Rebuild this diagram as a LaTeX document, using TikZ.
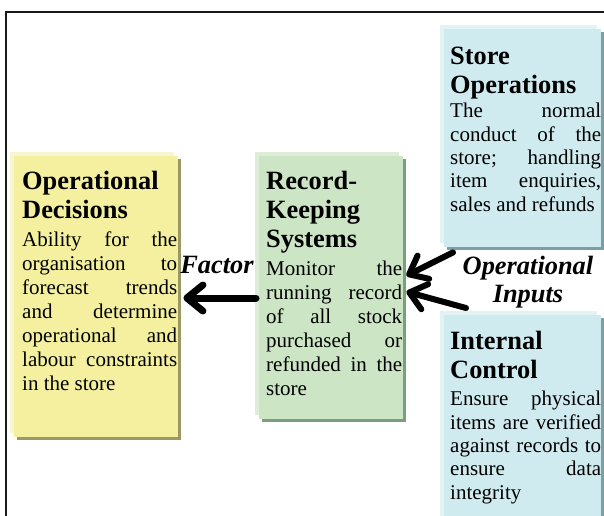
\documentclass[tikz,border=0pt]{standalone}
\usepackage{fontspec}
\setmainfont{Liberation Serif}
\usetikzlibrary{arrows.meta,shadows}

% panel colours: fill, pale back layer, dark drop shadow
\definecolor{yfill}{HTML}{F4F0A0}
\definecolor{ypale}{HTML}{F8F6D2}
\definecolor{ydark}{HTML}{999966}
\definecolor{gfill}{HTML}{CCE5C5}
\definecolor{gpale}{HTML}{DDEDD8}
\definecolor{gdark}{HTML}{7B9E7B}
\definecolor{bfill}{HTML}{D0EBF0}
\definecolor{bpale}{HTML}{E2F2F5}
\definecolor{bdark}{HTML}{7C9FA5}
\definecolor{framecol}{HTML}{1A1A1A}

% fonts for headings, body text and arrow labels
% (the font's own stretchable interword space is restored)
\newcommand\natspace{\spaceskip=0pt \xspaceskip=0pt\relax}
\newcommand\hdfont{\fontsize{26.4}{29}\selectfont\bfseries\natspace}
\newcommand\bdfont{\fontsize{21}{24}\selectfont\mdseries\natspace}
\newcommand\bdfontb{\fontsize{21}{23.3}\selectfont\mdseries\natspace}
\newcommand\lbfont{\fontsize{26.4}{28}\selectfont\bfseries\itshape}
% one fully justified line of body text
\newcommand\jl[1]{\makebox[\hsize][s]{\natspace #1}\\}

\tikzset{
  panel/.style n args={3}{rectangle, inner sep=0pt, draw=none, anchor=north west,
    fill=#1,
    general shadow={fill=#2, shadow xshift=-4pt, shadow yshift=4pt},
    general shadow={fill=#3, shadow xshift=3pt, shadow yshift=-3pt}},
  paneltext/.style={anchor=north west, inner sep=0pt, align=left, text width=#1},
  frame/.style={draw=framecol, line width=2pt},
  fatarrow/.style={line width=#1, line cap=round,
    -{Straight Barb[length=16pt, width=26pt, round]}},
  arrowlabel/.style={inner sep=0pt, font=\lbfont}
}

\begin{document}
\begin{tikzpicture}[x=1pt, y=-1pt]
  \useasboundingbox (0,0) rectangle (604,515);

  % outer frame (left and top edges)
  \draw[frame] (6,525) -- (6,11.7) -- (612,11.7);

  % the four panels
  \node[panel={yfill}{ypale}{ydark}, minimum width=164pt, minimum height=281pt] (ybox) at (14,156) {};
  \node[panel={gfill}{gpale}{gdark}, minimum width=144pt, minimum height=263pt] (gbox) at (259,156) {};
  \node[panel={bfill}{bpale}{bdark}, minimum width=157pt, minimum height=218pt] (sbox) at (444,29) {};
  \node[panel={bfill}{bpale}{bdark}, minimum width=157pt, minimum height=215pt] (ibox) at (444,315) {};

  % panel texts
  \node[paneltext=155pt] (ytext) at (22,171) {\hdfont Operational\\Decisions\par\vspace{4pt}
    \bdfont\jl{Ability for the}\jl{organisation to}\jl{forecast trends}\jl{and determine}%
    \jl{operational and}\jl{labour constraints}in the store\par};
  \node[paneltext=136pt] (gtext) at (266,171) {\hdfont Record-\\Keeping\\Systems\par\vspace{4pt}
    \bdfont\jl{Monitor the}\jl{running record}\jl{of all stock}\jl{purchased or}%
    \jl{refunded in the}store\par};
  \node[paneltext=151pt] (stext) at (450,47) {\hdfont Store\\Operations\par\vspace{1pt}
    \bdfontb\jl{The normal}\jl{conduct of the}\jl{store; handling}\jl{item enquiries,}%
    sales and refunds\par};
  \node[paneltext=151pt] (itext) at (450,331) {\hdfont Internal\\Control\par\vspace{4pt}
    \bdfontb\jl{Ensure physical}\jl{items are verified}\jl{against records to}\jl{ensure data}%
    integrity\par};

  % connectors
  \coordinate (fline) at (0,298);
  \draw[fatarrow=7pt] ([xshift=-3pt]gbox.west |- fline) -- ([xshift=5pt]ybox.east |- fline);
  \draw[fatarrow=6pt] ([xshift=9pt,yshift=-5pt]sbox.south west) -- ([xshift=3pt,yshift=12pt]gbox.east);
  \draw[fatarrow=6pt] ([xshift=22pt,yshift=7pt]ibox.north west) -- ([xshift=3pt,yshift=-4pt]gbox.east);

  % arrow labels
  \node[arrowlabel, anchor=base] (factor) at (217,273) {Factor};
  \node[arrowlabel, anchor=north, align=center] (inputs) at (528,256) {Operational\\Inputs};
\end{tikzpicture}
\end{document}
